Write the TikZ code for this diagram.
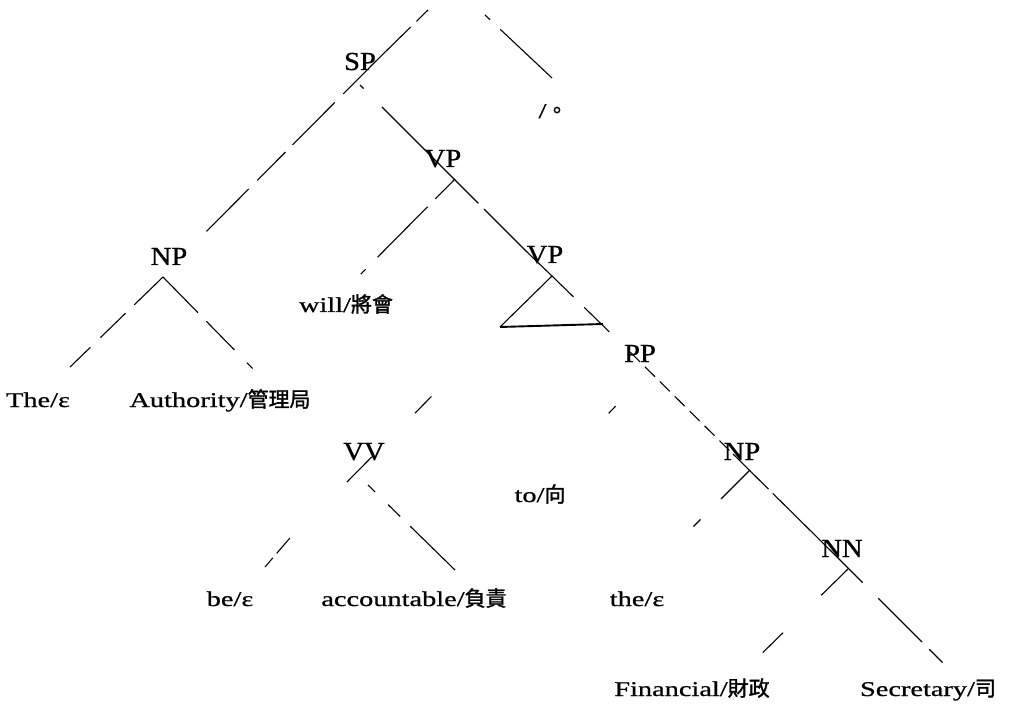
\documentclass[tikz,border=0pt]{standalone}
\usepackage{fontspec}
\setmainfont{Liberation Serif}[FakeStretch=1.35,FakeBold=0.8]
\newfontfamily\labfont{Liberation Serif}[FakeStretch=1.1,FakeBold=0.8]
\newfontfamily\cjk{Noto Sans CJK TC}[FakeBold=1.5]
\begin{document}
\begin{tikzpicture}[x=1pt,y=-1pt,
  cat/.style={font=\labfont\fontsize{26}{30}\selectfont, inner sep=0pt, anchor=base},
  leaf/.style={font=\fontsize{21}{25}\selectfont, inner sep=0pt, anchor=base},
  br/.style={line width=1.1pt, line cap=butt},
  tri/.style={line width=1.1pt},
  base/.style={line width=1.9pt}]
\useasboundingbox (0,0) rectangle (1009,711);
% category labels
\node[cat] (SP)  at (360,70)  {SP};
\node[cat] (VP1) at (443,167) {VP};
\node[cat] (NP1) at (169,265) {NP};
\node[cat] (VP2) at (545,263) {VP};
\node[cat] (PP)  at (640,362) {PP};
\node[cat] (VV)  at (364,460) {VV};
\node[cat] (NP2) at (742,460) {NP};
\node[cat] (NN)  at (842,557) {NN};
% leaves
\node[leaf] (stop) at (553,118) {/{\cjk 。}};
\node[leaf] (the1) at (38,407)  {The/ε};
\node[leaf] (auth) at (220,407) {Authority/{\cjk 管理局}};
\node[leaf] (will) at (346,312) {will/{\cjk 將會}};
\node[leaf] (to)   at (540,502) {to/{\cjk 向}};
\node[leaf] (be)   at (230,606) {be/ε};
\node[leaf] (acc)  at (414,606) {accountable/{\cjk 負責}};
\node[leaf] (the2) at (637,606) {the/ε};
\node[leaf] (fin)  at (692,696) {Financial/{\cjk 財政}};
\node[leaf] (sec)  at (928,696) {Secretary/{\cjk 司}};
% junction coordinates
\coordinate (topL) at (428,10);
\coordinate (topR) at (485,15);
\coordinate (stopT) at (552,78);
\coordinate (SPr) at (375,62);
\coordinate (SPb) at (360,85);
\coordinate (NP1t) at (188,250);
\coordinate (NP1b) at (163,277);
\coordinate (theT) at (70,367);
\coordinate (authT) at (257,373);
\coordinate (VP1j) at (443,168);
\coordinate (VP1k) at (455,179);
\coordinate (willT) at (358,277);
\coordinate (VP2j) at (527,252);
\coordinate (triA) at (552,276);
\coordinate (triL) at (500,327);
\coordinate (triB) at (603,324);
\coordinate (PPj) at (630,352);
\coordinate (PPk) at (655,365);
\coordinate (toT) at (540,485);
\coordinate (NP2j) at (733,454);
\coordinate (NP2k) at (750,470);
\coordinate (the2T) at (635,585);
\coordinate (NNj) at (833,553);
\coordinate (NNk) at (848,569);
\coordinate (finT) at (745,670);
\coordinate (secT) at (943,663);
\coordinate (VVj) at (347,482);
\coordinate (VVl) at (338,482);
\coordinate (VVr) at (368,485);
\coordinate (beT) at (265,567);
\coordinate (accT) at (455,570);
% top
\draw[br, dash pattern=on 50pt off 8pt on 20pt] (SPr) -- (topL);
\draw[br, dash pattern=on 7pt off 14pt on 71pt] (topR) -- (stopT);
% SP -> NP
\draw[br, dash pattern=on 45pt off 12pt on 60pt off 10pt on 40pt off 12pt on 60pt] (SPr) -- (NP1t);
% spine
\draw[br, dash pattern=on 5pt off 26pt on 90pt] (SPb) -- (VP1j);
\draw[br, dash pattern=on 50pt off 8pt on 70pt] (VP1j) -- (VP2j);
\draw[br] (VP2j) -- (triA);
\draw[br, dash pattern=on 30pt off 15pt on 35pt off 30pt] (triA) -- (PPj);
\draw[br, dash pattern=on 14pt off 7pt] (PPj) -- (NP2j);
\draw[br, dash pattern=on 50pt off 6pt on 90pt] (NP2j) -- (NNj);
\draw[br, dash pattern=on 42pt off 22pt on 62pt off 10pt on 19pt] (NNj) -- (secT);
% triangle
\draw[tri] (triA) -- (triL);
\draw[base] (triL) -- (triB);
% NP1 children
\draw[br, dash pattern=on 40pt off 12pt on 35pt off 14pt on 40pt] (NP1b) -- (theT);
\draw[br, dash pattern=on 50pt off 12pt on 40pt off 18pt on 8pt] (NP1b) -- (authT);
% VP1 -> will
\draw[br, dash pattern=on 28pt off 11pt on 71pt off 17pt on 7pt] (VP1k) -- (willT);
% triangle -> VV
\draw[br, dash pattern=on 0pt off 97.6pt on 23.4pt off 61.5pt on 35.3pt] (triL) -- (VVj);
% VV children
\draw[br, dash pattern=on 0pt off 74pt on 20pt off 6pt on 12pt] (VVl) -- (beT);
\draw[br, dash pattern=on 10pt off 18pt on 17pt off 14pt on 64pt] (VVr) -- (accT);
% PP -> to
\draw[br, dash pattern=on 0pt off 57pt on 10pt off 100pt] (PPk) -- (toT);
% NP2 -> the
\draw[br, dash pattern=on 41pt off 29pt on 10pt off 100pt] (NP2k) -- (the2T);
% NN -> Financial
\draw[br, dash pattern=on 37.5pt off 53.5pt on 28.5pt off 40pt] (NNk) -- (finT);
\end{tikzpicture}
\end{document}
